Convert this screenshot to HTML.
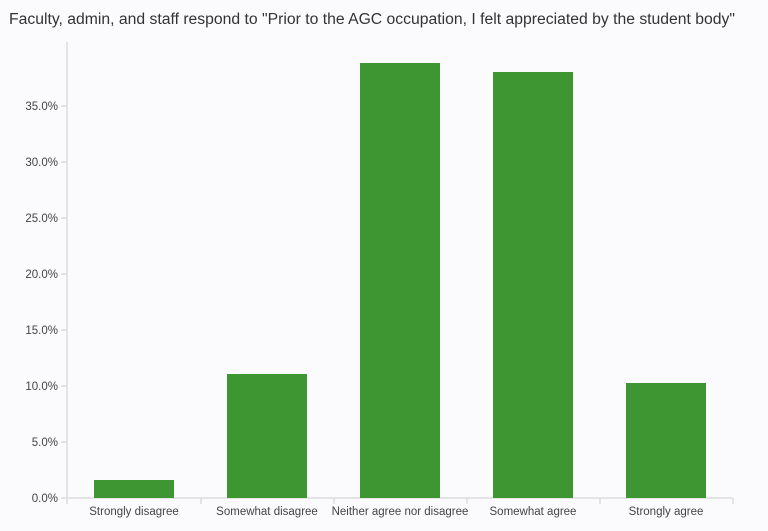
<!DOCTYPE html>
<html><head><style>
body{margin:0;background:#fbfbfd;}
svg{display:block;font-family:"Liberation Sans",sans-serif;}
</style></head><body>
<svg width="768" height="531" viewBox="0 0 768 531">
<rect width="768" height="531" fill="#fbfbfd"/>
<text x="9" y="24" font-size="15.5" fill="#333" textLength="726" lengthAdjust="spacingAndGlyphs">Faculty, admin, and staff respond to "Prior to the AGC occupation, I felt appreciated by the student body"</text>
<g stroke="#ddd" stroke-width="1.5">
<line x1="67" y1="42" x2="67" y2="498"/>
<line x1="67" y1="498" x2="733" y2="498"/>
<line x1="61" y1="498" x2="67" y2="498"/>
<line x1="61" y1="442" x2="67" y2="442"/>
<line x1="61" y1="386" x2="67" y2="386"/>
<line x1="61" y1="330" x2="67" y2="330"/>
<line x1="61" y1="274" x2="67" y2="274"/>
<line x1="61" y1="218" x2="67" y2="218"/>
<line x1="61" y1="162" x2="67" y2="162"/>
<line x1="61" y1="106" x2="67" y2="106"/>
<line x1="67" y1="498" x2="67" y2="504"/>
<line x1="201" y1="498" x2="201" y2="504"/>
<line x1="334" y1="498" x2="334" y2="504"/>
<line x1="467" y1="498" x2="467" y2="504"/>
<line x1="600" y1="498" x2="600" y2="504"/>
<line x1="733" y1="498" x2="733" y2="504"/>
</g>
<g font-size="11.5" fill="#444" text-anchor="end">
<text x="58" y="502">0.0%</text>
<text x="58" y="446">5.0%</text>
<text x="58" y="390">10.0%</text>
<text x="58" y="334">15.0%</text>
<text x="58" y="278">20.0%</text>
<text x="58" y="222">25.0%</text>
<text x="58" y="166">30.0%</text>
<text x="58" y="110">35.0%</text>
</g>
<g fill="#3d9632">
<rect x="94" y="480" width="80" height="18"/>
<rect x="227" y="374" width="80" height="124"/>
<rect x="360" y="63" width="80" height="435"/>
<rect x="493" y="72" width="80" height="426"/>
<rect x="626" y="383" width="80" height="115"/>
</g>
<g font-size="11.5" fill="#444" text-anchor="middle">
<text x="134" y="515">Strongly disagree</text>
<text x="267" y="515">Somewhat disagree</text>
<text x="400" y="515">Neither agree nor disagree</text>
<text x="533" y="515">Somewhat agree</text>
<text x="666" y="515">Strongly agree</text>
</g>
</svg>
</body></html>
